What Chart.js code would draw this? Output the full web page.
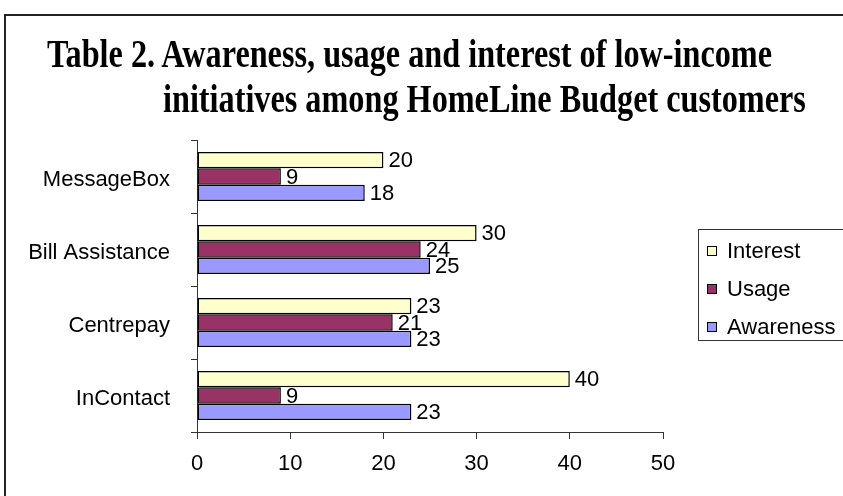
<!DOCTYPE html>
<html>
<head>
<meta charset="utf-8">
<script src="https://cdn.jsdelivr.net/npm/chart.js@4"></script>
<style>
    body { margin: 0; background: #fff; }
    #wrap { position: relative; width: 843px; height: 496px; overflow: hidden; background: #fff; }
    #frame { position: absolute; left: 4px; top: 14px; width: 900px; height: 600px; border: 2px solid #222; }
    .title { position: absolute; font-family: "Liberation Serif", "Times New Roman", serif; font-weight: bold;
             font-size: 41px; line-height: 41px; white-space: nowrap; color: #000; transform-origin: 0 0; }
    #legend { position: absolute; left: 698px; top: 229px; width: 170px; height: 110px; border: 1px solid #333;
              font-family: "Liberation Sans", Arial, sans-serif; font-size: 22px; }
    .item { position: absolute; left: 8px; height: 26px; line-height: 26px; white-space: nowrap; }
    .item i { display: inline-block; width: 8px; height: 8px; border: 1px solid #000; margin-right: 10px; vertical-align: 2px; }
    canvas { position: absolute; left: 0; top: 0; }
</style>
</head>
<body>
<div id="wrap">
    <div id="frame"></div>
    <canvas id="chart" width="843" height="496"></canvas>
    <div class="title" id="t1">Table 2. Awareness, usage and interest of low-income</div>
    <div class="title" id="t2">initiatives among HomeLine Budget customers</div>
    <div id="legend"></div>
</div>
<script>
const categories = ["MessageBox", "Bill Assistance", "Centrepay", "InContact"];
const interest = [20, 30, 23, 40];
const usage = [9, 24, 21, 9];
const awareness = [18, 25, 23, 23];
const xTicks = [0, 10, 20, 30, 40, 50];

const series = [
    ["Interest", interest, "#FFFFCC"],
    ["Usage", usage, "#993366"],
    ["Awareness", awareness, "#9999FF"]
];

const axisFont = { family: "'Liberation Sans', Arial", size: 22 };

// title lines, squeezed like the original
const t1 = document.querySelector("#t1");
const t2 = document.querySelector("#t2");
const squeeze = 725 / t1.getBoundingClientRect().width;
t1.style.left = "47px"; t1.style.top = "33px";
t2.style.left = "163px"; t2.style.top = "78px";
t1.style.transform = `scaleX(${squeeze})`;
t2.style.transform = `scaleX(${squeeze})`;

document.querySelector("#legend").innerHTML = series.map(([label, , color], i) => `
    <div class="item" style="top:${8 + i * 38}px"><i style="background:${color}"></i>${label}</div>
`).join("");

const valueLabels = {
    id: "valueLabels",
    afterDatasetsDraw(chart) {
        const ctx = chart.ctx;
        ctx.save();
        ctx.font = "22px 'Liberation Sans', Arial, sans-serif";
        ctx.fillStyle = "#000";
        ctx.textAlign = "left";
        ctx.textBaseline = "middle";
        chart.data.datasets.forEach((ds, i) => {
            chart.getDatasetMeta(i).data.forEach((bar, j) => {
                ctx.fillText(ds.data[j], bar.x + 5, bar.y + 1);
            });
        });
        ctx.restore();
    }
};

new Chart(document.querySelector("#chart"), {
    type: "bar",
    data: {
        labels: categories,
        datasets: series.map(([label, data, color]) => ({
            label,
            data,
            backgroundColor: color,
            borderColor: "#000",
            borderWidth: 1.5,
            borderSkipped: false,
            categoryPercentage: 0.67,
            barPercentage: 1
        }))
    },
    options: {
        indexAxis: "y",
        responsive: false,
        devicePixelRatio: 1,
        animation: false,
        layout: { padding: { top: 140, right: 180, bottom: 0, left: 0 } },
        plugins: { legend: { display: false }, tooltip: { enabled: false } },
        scales: {
            x: {
                min: 0,
                max: 50,
                afterFit: (s) => { s.height = 64; },
                afterBuildTicks: (s) => { s.ticks = xTicks.map((v) => ({ value: v })); },
                grid: { drawOnChartArea: false, tickLength: 7, color: "#333" },
                border: { color: "#333" },
                ticks: { color: "#000", padding: 12, font: axisFont }
            },
            y: {
                afterFit: (s) => { s.width = 197; },
                grid: { drawOnChartArea: false, tickLength: 6, color: "#333" },
                border: { color: "#333" },
                ticks: { color: "#000", padding: 21, labelOffset: 3, font: axisFont }
            }
        }
    },
    plugins: [valueLabels]
});
</script>
</body>
</html>
